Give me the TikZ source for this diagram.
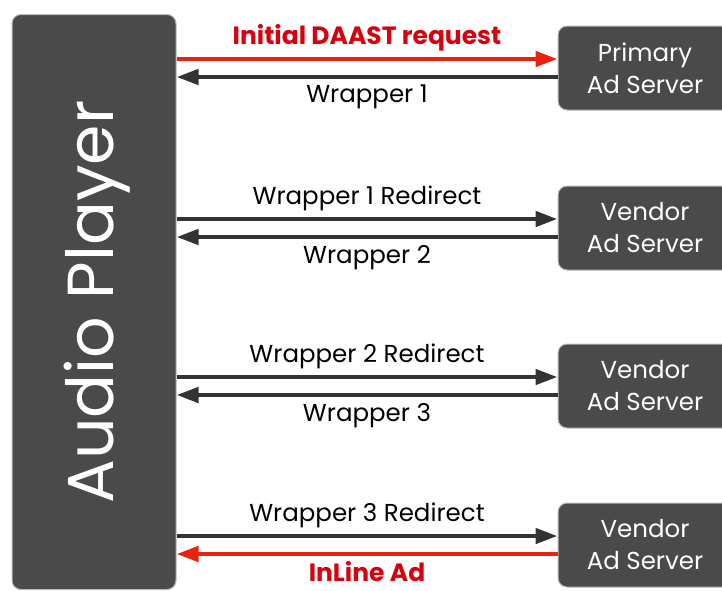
\documentclass[tikz,border=0pt]{standalone}
\usepackage{fontspec}
\setmainfont{Poppins}
\usetikzlibrary{arrows.meta}
\definecolor{boxgray}{HTML}{4A4A4A}
\definecolor{linegray}{HTML}{333333}
\definecolor{redline}{HTML}{E8220F}
\definecolor{redtext}{HTML}{D9000D}

\begin{document}
\begin{tikzpicture}[x=1pt,y=-1pt,
	box/.style={draw=gray!55,line width=1pt,fill=boxgray,rounded corners=9pt,text=white,align=center,font=\fontsize{24.5}{32}\selectfont},
	fwd/.style={-{Triangle[length=22pt,width=15pt]},line width=4.5pt,draw=linegray},
	lbl/.style={font=\fontsize{24.5}{26}\selectfont,text=black,inner sep=2pt},
	redlbl/.style={font=\bfseries\fontsize{25}{26}\selectfont,text=redtext,inner sep=2pt}]
\useasboundingbox (0,0) rectangle (722,590);
\node[box,minimum width=164pt,minimum height=575pt] (player) at (94,302) {};
\node[rotate=90,text=white,font=\fontsize{65}{70}\selectfont] (title) at (97,302) {Audio Player};
\node[box,minimum width=174pt,minimum height=84pt] (s1) at (645,68) {Primary\\Ad Server};
\node[box,minimum width=174pt,minimum height=84pt] (s2) at (645,228) {Vendor\\Ad Server};
\node[box,minimum width=174pt,minimum height=84pt] (s3) at (645,386) {Vendor\\Ad Server};
\node[box,minimum width=174pt,minimum height=84pt] (s4) at (645,545) {Vendor\\Ad Server};
\draw [fwd,draw=redline]([yshift=9pt]player.east |- s1.west)--([yshift=9pt]s1.west) node[midway,above=4pt,redlbl]{Initial DAAST request};
\draw [fwd]([yshift=-9pt]s1.west)--([yshift=-9pt]player.east |- s1.west) node[midway,below=4pt,lbl]{Wrapper 1};
\draw [fwd]([yshift=9pt]player.east |- s2.west)--([yshift=9pt]s2.west) node[midway,above=4pt,lbl]{Wrapper 1 Redirect};
\draw [fwd]([yshift=-9pt]s2.west)--([yshift=-9pt]player.east |- s2.west) node[midway,below=4pt,lbl]{Wrapper 2};
\draw [fwd]([yshift=9pt]player.east |- s3.west)--([yshift=9pt]s3.west) node[midway,above=4pt,lbl]{Wrapper 2 Redirect};
\draw [fwd]([yshift=-9pt]s3.west)--([yshift=-9pt]player.east |- s3.west) node[midway,below=4pt,lbl]{Wrapper 3};
\draw [fwd]([yshift=9pt]player.east |- s4.west)--([yshift=9pt]s4.west) node[midway,above=4pt,lbl]{Wrapper 3 Redirect};
\draw [fwd,draw=redline]([yshift=-9pt]s4.west)--([yshift=-9pt]player.east |- s4.west) node[midway,below=3pt,redlbl]{InLine Ad};
\end{tikzpicture}
\end{document}
